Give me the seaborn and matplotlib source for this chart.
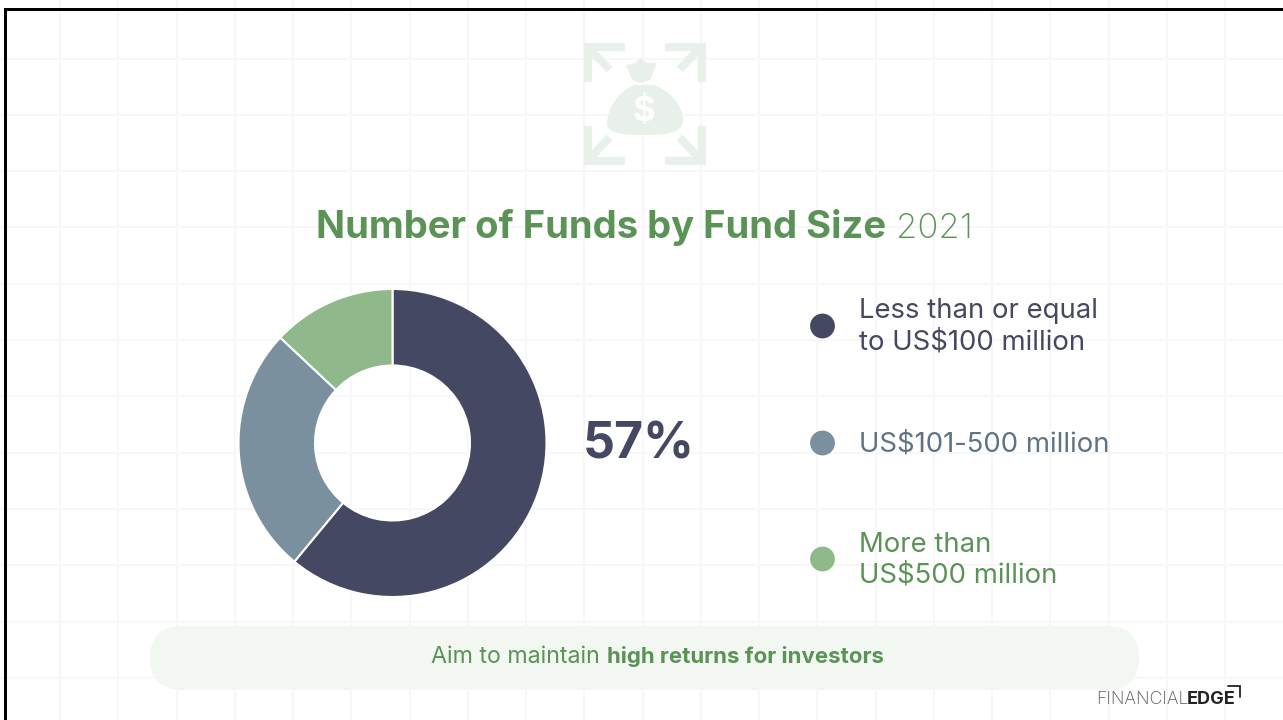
import numpy as np
import matplotlib.pyplot as plt
import matplotlib.patches as mpatches
from matplotlib.path import Path
import seaborn as sns

# donut data
categories = ["Less than or equal\nto US$100 million", "US$101-500 million", "More than\nUS$500 million"]
shares = [61, 26, 13]
colors = ["#454862", "#7A909F", "#8FB98A"]
text_colors = ["#454862", "#5F7384", "#5B9357"]
big_label = "57%"
title_bold = "Number of Funds by Fund Size"
title_light = "2021"
note_plain = "Aim to maintain"
note_bold = "high returns for investors"

sns.set_theme(style="white")
plt.rcParams["font.family"] = ["Inter", "DejaVu Sans"]

W, H = 1283, 720
fig = plt.figure(figsize=(W / 100, H / 100), dpi=100, facecolor="white")

# background axes in pixel coordinates
bg = fig.add_axes([0, 0, 1, 1])
bg.set_xlim(0, W)
bg.set_ylim(H, 0)
bg.set_xticks(np.arange(60, W, 58.25))
bg.set_yticks(np.arange(58.5, H, 56.3))
bg.grid(True, color="#F6F7F6", lw=1.5)
bg.tick_params(left=False, bottom=False, labelleft=False, labelbottom=False)
for s in bg.spines.values():
    s.set_visible(False)
bg.set_axisbelow(True)

# black edge, top and left only
bg.add_patch(mpatches.Rectangle((4, 8), W, 2.5, color="black", lw=0))
bg.add_patch(mpatches.Rectangle((4, 8), 2.5, H, color="black", lw=0))

# money bag icon
ICON = "#E8F1E9"
cx, cy = 644.5, 103.5
for sx in (-1, 1):
    for sy in (-1, 1):
        corner = [(cx + sx * 57, cy + sy * 22), (cx + sx * 57, cy + sy * 57), (cx + sx * 20, cy + sy * 57)]
        bg.plot(*zip(*corner), color=ICON, lw=5.8, solid_joinstyle="miter", solid_capstyle="butt")
        bg.plot([cx + sx * 56, cx + sx * 35], [cy + sy * 56, cy + sy * 34], color=ICON, lw=5.8, solid_capstyle="butt")
bag = Path(
    [(634, 85), (618, 92), (607, 108), (607, 124), (607, 134), (625, 135), (645, 135),
     (665, 135), (683, 134), (683, 120), (683, 106), (670, 91), (655, 85), (634, 85)],
    [Path.MOVETO, Path.CURVE4, Path.CURVE4, Path.CURVE4, Path.CURVE4, Path.CURVE4, Path.CURVE4,
     Path.CURVE4, Path.CURVE4, Path.CURVE4, Path.CURVE4, Path.CURVE4, Path.CURVE4, Path.CLOSEPOLY],
)
bg.add_patch(mpatches.PathPatch(bag, color=ICON, lw=0))
knot = [(626, 65), (635, 63), (641, 58), (647, 63), (657, 63), (650, 80), (641, 83), (632, 80)]
bg.add_patch(mpatches.Polygon(knot, closed=True, color=ICON, lw=0))
bg.text(644, 112, "$", color="white", fontsize=25, fontweight="bold", ha="center", va="center")

# note pill
pill = mpatches.FancyBboxPatch((150, 626), 989, 64, boxstyle="round,pad=0,rounding_size=32",
                               fc="#F2F7F2", ec="none")
bg.add_patch(pill)

green = "#5B9357"
bg.text(316, 238, title_bold, color=green, fontsize=27.5, fontweight="bold", va="baseline")
bg.text(896, 238, title_light, color=green, fontsize=25, fontweight="light", va="baseline")
bg.text(431, 663, note_plain, color=green, fontsize=16.7, va="baseline")
bg.text(607, 663, note_bold, color=green, fontsize=16, fontweight="bold", va="baseline")

# donut
R, r_in = 154, 77.5
dcx, dcy = 392.5, 443
ax = fig.add_axes([(dcx - R) / W, 1 - (dcy + R) / H, 2 * R / W, 2 * R / H])
ax.pie(shares, colors=colors, startangle=90, counterclock=False, radius=1,
       wedgeprops=dict(width=1 - r_in / R, edgecolor="white", linewidth=1.5))
ax.set_xlim(-1, 1)
ax.set_ylim(-1, 1)

bg.text(638.5, 445, big_label, color="#454862", fontsize=36, fontweight="bold", ha="center", va="center")

# legend
leg_y = [326, 443, 559]
bg.scatter([822.5] * 3, leg_y, s=np.pi * (14 * 0.72) ** 2, c=colors, lw=0, zorder=3)
for lab, y, c in zip(categories, leg_y, text_colors):
    bg.text(859, y + 1, lab, color=c, fontsize=19.8, va="center", ha="left", linespacing=1.25)

# logo
bg.text(1096, 704, "FINANCIAL", color="#555555", fontsize=12.7, fontweight="light", va="baseline")
bg.text(1187, 704, "EDGE", color="#222222", fontsize=13, fontweight="bold", va="baseline")
bg.plot([1228, 1240, 1240], [686, 686, 697], color="#222222", lw=1.3, solid_joinstyle="miter")

fig.savefig("out.png", dpi=100)
